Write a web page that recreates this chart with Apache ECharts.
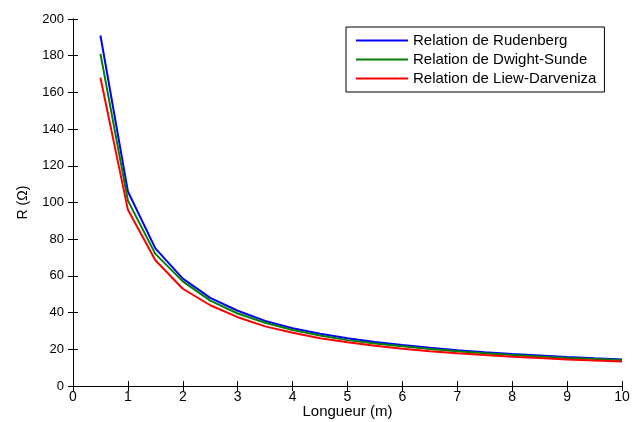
<!DOCTYPE html>
<html>
<head>
<meta charset="utf-8">
<script src="https://cdn.jsdelivr.net/npm/echarts@6/dist/echarts.min.js"></script>
<style>
  html, body { margin: 0; padding: 0; background: #fff; }
  #chart { width: 632px; height: 422px; }
</style>
</head>
<body>
<div id="chart"></div>
<script>
// longueur (m)
const longueurs = [0.5, 1, 1.5, 2, 2.5, 3, 3.5, 4, 4.5, 5, 5.5, 6, 6.5, 7, 7.5, 8, 8.5, 9, 9.5, 10]
const rudenberg = [191, 106, 75, 58.5, 48, 41, 35.5, 31.5, 28.5, 26, 24, 22.3, 20.8, 19.5, 18.4, 17.4, 16.6, 15.8, 15.1, 14.5]
const dwightSunde = [181, 101, 72, 57, 46.5, 39.5, 34.5, 30.5, 27.5, 25, 23.2, 21.6, 20.1, 18.9, 17.8, 16.9, 16.1, 15.3, 14.7, 14.0]
const liewDarveniza = [168, 96, 68.5, 53, 44, 37.5, 32.5, 29, 26, 23.8, 21.9, 20.3, 19, 17.9, 16.9, 16, 15.2, 14.5, 13.9, 13.3]

const seriesNames = ['Relation de Rudenberg', 'Relation de Dwight-Sunde', 'Relation de Liew-Darveniza']
const seriesColors = ['#0000ff', '#008000', '#ff0000']

const font = 'Liberation Sans, Arial, sans-serif'

function pairs (vals) {
  return longueurs.map((x, i) => [x, vals[i]])
}

const chart = echarts.init(document.getElementById('chart'))

const axisLine = { show: true, lineStyle: { color: '#000', width: 1 } }
const axisTick = { show: true, inside: true, length: 5, lineStyle: { color: '#000' } }

chart.setOption({
  animation: false,
  grid: {
    left: 73,
    right: 10,
    top: 19,
    bottom: 36,
    containLabel: false,
    outerBoundsMode: 'none'
  },
  legend: {
    orient: 'vertical',
    left: 346,
    top: 27,
    padding: [6, 8, 6, 10],
    itemGap: 4,
    itemWidth: 52,
    itemHeight: 2,
    icon: 'rect',
    borderColor: '#000',
    borderWidth: 1,
    backgroundColor: '#fff',
    textStyle: { fontFamily: font, fontSize: 15, lineHeight: 15, color: '#000' },
    data: seriesNames
  },
  xAxis: [
    {
      type: 'value',
      min: 0,
      max: 10,
      interval: 1,
      name: 'Longueur (m)',
      nameLocation: 'middle',
      nameGap: 18,
      nameMoveOverlap: false,
      nameTextStyle: { fontFamily: font, fontSize: 15, color: '#000', verticalAlign: 'top' },
      axisLine: axisLine,
      axisTick: axisTick,
      axisLabel: { fontFamily: font, fontSize: 14, color: '#000', margin: 4 },
      splitLine: { show: false }
    },
    {
      type: 'value',
      position: 'top',
      min: 0,
      max: 10,
      interval: 1,
      axisLine: axisLine,
      axisTick: axisTick,
      axisLabel: { show: false },
      splitLine: { show: false }
    }
  ],
  yAxis: [
    {
      type: 'value',
      min: 0,
      max: 200,
      interval: 20,
      name: 'R (Ω)',
      nameLocation: 'middle',
      nameGap: 43,
      nameMoveOverlap: false,
      nameTextStyle: { fontFamily: font, fontSize: 14, color: '#000' },
      axisLine: axisLine,
      axisTick: axisTick,
      axisLabel: { fontFamily: font, fontSize: 13, color: '#000', margin: 9 },
      splitLine: { show: false }
    },
    {
      type: 'value',
      position: 'right',
      min: 0,
      max: 200,
      interval: 20,
      axisLine: axisLine,
      axisTick: axisTick,
      axisLabel: { show: false },
      splitLine: { show: false }
    }
  ],
  series: [rudenberg, dwightSunde, liewDarveniza].map((vals, i) => ({
    name: seriesNames[i],
    type: 'line',
    data: pairs(vals),
    symbol: 'none',
    lineStyle: { color: seriesColors[i], width: 2 },
    itemStyle: { color: seriesColors[i] }
  }))
})
</script>
</body>
</html>
